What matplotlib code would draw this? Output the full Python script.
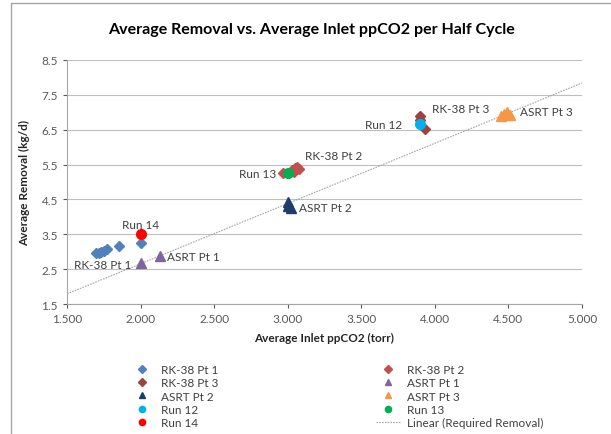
import matplotlib
matplotlib.use('Agg')
import matplotlib.pyplot as plt
from matplotlib.lines import Line2D
from matplotlib.patches import Rectangle

plt.rcParams['font.family'] = ['Lato', 'DejaVu Sans']

# data
rk1_x = [1.70, 1.72, 1.73, 1.75, 1.77, 1.85, 2.00]
rk1_y = [2.95, 2.97, 3.00, 3.02, 3.07, 3.15, 3.25]
rk2_x = [2.97, 3.03, 3.05, 3.06, 3.08, 3.04]
rk2_y = [5.27, 5.33, 5.40, 5.43, 5.37, 5.30]
rk3_x = [3.90, 3.90, 3.93]
rk3_y = [6.88, 6.78, 6.52]
asrt1_x = [2.00, 2.13]
asrt1_y = [2.67, 2.87]
asrt2_x = [3.00, 3.00, 3.02]
asrt2_y = [4.42, 4.32, 4.25]
asrt3_x = [4.45, 4.47, 4.49, 4.51]
asrt3_y = [6.90, 6.96, 7.00, 6.93]
run12_x, run12_y = [3.90], [6.66]
run13_x, run13_y = [3.00], [5.25]
run14_x, run14_y = [2.00], [3.50]

# required removal line
line_x = [1.5, 5.0]
line_y = [1.79, 7.84]

fig = plt.figure(figsize=(6.11, 4.35), dpi=100)
ax = fig.add_axes([67/611, 1 - 305/435, (582 - 67)/611, (305 - 61)/435])

gray = '#595959'
ax.plot(line_x, line_y, color='#a6a6a6', lw=0.8, ls=(0, (1.5, 1)), zorder=2)

series = [
    ('RK-38 Pt 1', rk1_x, rk1_y, 'D', '#4F81BD', 5.5),
    ('RK-38 Pt 2', rk2_x, rk2_y, 'D', '#C0504D', 5.5),
    ('RK-38 Pt 3', rk3_x, rk3_y, 'D', '#A0413C', 5.5),
    ('ASRT Pt 1', asrt1_x, asrt1_y, '^', '#7E64A0', 7),
    ('ASRT Pt 2', asrt2_x, asrt2_y, '^', '#1F3D6B', 7),
    ('ASRT Pt 3', asrt3_x, asrt3_y, '^', '#F79646', 7),
    ('Run 12', run12_x, run12_y, 'o', '#00B0F0', 7),
    ('Run 13', run13_x, run13_y, 'o', '#00B050', 7),
    ('Run 14', run14_x, run14_y, 'o', '#FF0000', 7),
]
for name, xs, ys, m, c, s in series:
    ax.plot(xs, ys, ls='none', marker=m, color=c, ms=s, mec=c, zorder=3)

# point labels
lbl = dict(fontsize=8.5, color='#404040')
ax.text(1.74, 2.62, 'RK-38 Pt 1', ha='center', va='center', **lbl)
ax.text(2.18, 2.85, 'ASRT Pt 1', ha='left', va='center', **lbl)
ax.text(2.0, 3.78, 'Run 14', ha='center', va='center', **lbl)
ax.text(2.92, 5.25, 'Run 13', ha='right', va='center', **lbl)
ax.text(3.12, 5.75, 'RK-38 Pt 2', ha='left', va='center', **lbl)
ax.text(3.08, 4.28, 'ASRT Pt 2', ha='left', va='center', **lbl)
ax.text(3.78, 6.65, 'Run 12', ha='right', va='center', **lbl)
ax.text(3.98, 7.1, 'RK-38 Pt 3', ha='left', va='center', **lbl)
ax.text(4.58, 7.02, 'ASRT Pt 3', ha='left', va='center', **lbl)

ax.set_xlim(1.5, 5.0)
ax.set_ylim(1.5, 8.5)
ax.set_xticks([1.5, 2.0, 2.5, 3.0, 3.5, 4.0, 4.5, 5.0])
ax.set_xticklabels(['1.500', '2.000', '2.500', '3.000', '3.500', '4.000', '4.500', '5.000'])
ax.set_yticks([1.5, 2.5, 3.5, 4.5, 5.5, 6.5, 7.5, 8.5])
ax.tick_params(labelsize=8.5, colors=gray, length=3, width=0.8)
ax.grid(axis='y', color='#bfbfbf', lw=0.8)
ax.set_axisbelow(True)
for sp in ['top', 'right']:
    ax.spines[sp].set_visible(False)
for sp in ['left', 'bottom']:
    ax.spines[sp].set_color('#a6a6a6')
    ax.spines[sp].set_linewidth(0.8)

ax.set_xlabel('Average Inlet ppCO2 (torr)', fontsize=8.5, fontweight='bold', color='#262626', labelpad=6)
ax.set_ylabel('Average Removal (kg/d)', fontsize=8.5, fontweight='bold', color='#262626', labelpad=8)
fig.text(311/611, 1 - 30/435, 'Average Removal vs. Average Inlet ppCO2 per Half Cycle',
         ha='center', va='center', fontsize=11.5, fontweight='bold', color='#000000')

# legend, filled row by row like the original
handles = []
for name, xs, ys, m, c, s in series:
    handles.append(Line2D([], [], ls='none', marker=m, color=c, ms=4.5, label=name))
handles.append(Line2D([], [], color='#a6a6a6', lw=0.8, ls=(0, (1.5, 1)), label='Linear (Required Removal)'))
left_col = handles[0::2]
right_col = handles[1::2]
leg_kw = dict(frameon=False, fontsize=8.5, handlelength=2.0, labelspacing=0.2,
              handletextpad=0.6, labelcolor='#404040', borderpad=0)
fig.legend(handles=left_col, loc='upper left', bbox_to_anchor=(124/611, 1 - 359/435), **leg_kw)
fig.legend(handles=right_col, loc='upper left', bbox_to_anchor=(370/611, 1 - 359/435), **leg_kw)

# chart border
fig.patches.append(Rectangle((11/611, -0.1), 1.2, 1 - 4/435 + 0.1, transform=fig.transFigure,
                             fill=False, ec='#a6a6a6', lw=1))

fig.savefig('out.png', dpi=100)
